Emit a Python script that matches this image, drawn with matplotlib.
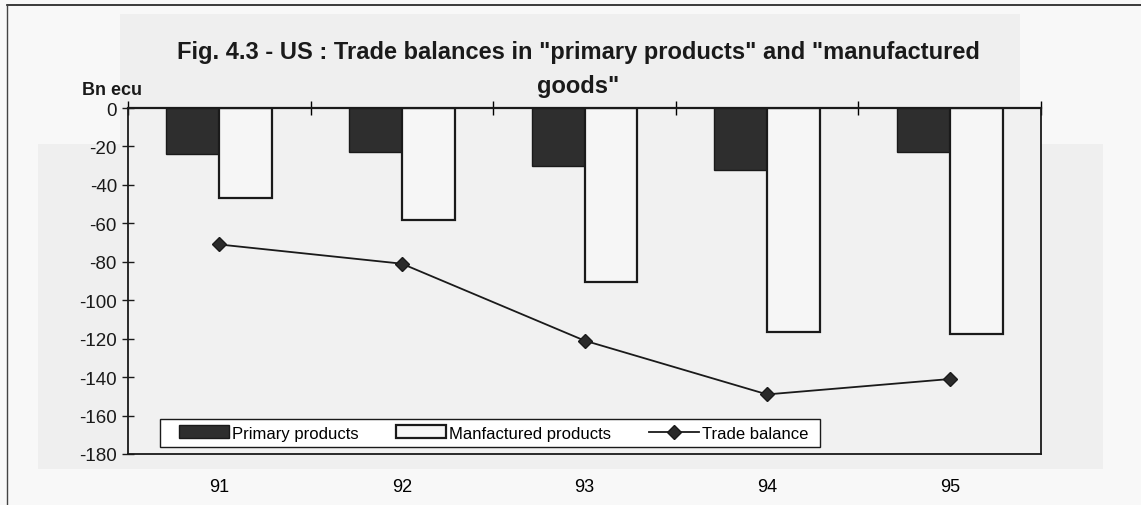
import matplotlib
matplotlib.use("Agg")
import matplotlib.pyplot as plt
import numpy as np
from matplotlib.patches import Rectangle

years = ["91", "92", "93", "94", "95"]
primary = [-24, -23, -30, -32, -23]
manufactured = [-47, -58.5, -90.5, -116.5, -117.5]
trade_balance = [-71, -81, -121, -149, -141]
yticks = [0, -20, -40, -60, -80, -100, -120, -140, -160, -180]

plt.rcParams['font.family'] = ['Liberation Sans', 'DejaVu Sans']

W, H = 1141, 506
fig = plt.figure(figsize=(W/100, H/100), dpi=100, facecolor='#f8f8f8')
ax_l, ax_r, ax_t, ax_b = 128, 1041, 109, 455
ax = fig.add_axes([ax_l/W, 1-ax_b/H, (ax_r-ax_l)/W, (ax_b-ax_t)/H])
ax.set_facecolor('#f1f1f1')

# light background patches resembling the scan
fig.patches.append(Rectangle((120/W, 1-145/H), (1020-120)/W, (145-15)/H,
                             transform=fig.transFigure, facecolor='#efefef', edgecolor='none', zorder=-5))
fig.patches.append(Rectangle((38/W, 1-470/H), (1103-38)/W, (470-145)/H,
                             transform=fig.transFigure, facecolor='#efefef', edgecolor='none', zorder=-5))

x = np.arange(len(years))
w = 0.29
ax.bar(x - w/2, primary, width=w, color='#2e2e2e', edgecolor='#1a1a1a', linewidth=1.0,
       label='Primary products', zorder=2)
ax.bar(x + w/2, manufactured, width=w, color='#f6f6f6', edgecolor='#1a1a1a', linewidth=1.6,
       label='Manfactured products', zorder=2)
ax.plot(x, trade_balance, color='#1a1a1a', linewidth=1.3, marker='D', markersize=7.5,
        markerfacecolor='#2a2a2a', markeredgecolor='#1a1a1a', label='Trade balance', zorder=3)

ax.set_xlim(-0.5, len(years) - 0.5)
ax.set_ylim(-180, 0)
ax.set_yticks(yticks)
ax.set_yticklabels([str(v) for v in yticks], fontsize=13.5)
ax.tick_params(axis='y', direction='inout', length=8, width=1, pad=4, colors='#1a1a1a')

# x labels at bottom, no ticks; boundary ticks drawn on the zero line
ax.set_xticks(x)
ax.set_xticklabels(years, fontsize=13)
ax.tick_params(axis='x', length=0, pad=17)
ax.set_xticks(np.arange(-0.5, len(years)), minor=True)
ax.tick_params(axis='x', which='minor', bottom=False, top=True, direction='inout', length=10, width=1)

for s in ax.spines.values():
    s.set_color('#1a1a1a')
    s.set_linewidth(1.3)
ax.spines['top'].set_linewidth(1.6)

# legend frame drawn separately (wide horizontal padding as in the original)
axw, axh = ax_r - ax_l, ax_b - ax_t
ax.add_patch(Rectangle(((160-ax_l)/axw, (ax_b-448)/axh), (820-160)/axw, (448-420)/axh,
                       transform=ax.transAxes, facecolor='#ffffff', edgecolor='#1a1a1a',
                       linewidth=1.0, zorder=4))
handles, labels = ax.get_legend_handles_labels()
order = [labels.index('Primary products'), labels.index('Manfactured products'),
         labels.index('Trade balance')]
leg = ax.legend([handles[i] for i in order], [labels[i] for i in order],
                loc='center left', bbox_to_anchor=((179-ax_l)/axw, (ax_b-434)/axh), ncol=3,
                fontsize=12, frameon=False, handlelength=3.0, handleheight=0.8,
                columnspacing=2.3, borderpad=0, handletextpad=0.15, borderaxespad=0)
leg.set_zorder(5)

fig.text(0.507, 1-52/H, 'Fig. 4.3 - US : Trade balances in "primary products" and "manufactured',
         ha='center', va='center', fontsize=17, fontweight='bold', color='#1a1a1a')
fig.text(0.507, 1-86/H, 'goods"', ha='center', va='center', fontsize=17,
         fontweight='bold', color='#1a1a1a')
fig.text(82/W, 1-91/H, 'Bn ecu', ha='left', va='center', fontsize=13,
         fontweight='bold', color='#1a1a1a')

# outer frame lines (top and left)
fig.add_artist(plt.Line2D([7/W, 1], [1-6/H, 1-6/H], transform=fig.transFigure,
                          color='#1a1a1a', linewidth=1.2))
fig.add_artist(plt.Line2D([7/W, 7/W], [0, 1-6/H], transform=fig.transFigure,
                          color='#444444', linewidth=1.0))

fig.savefig('out.png', dpi=100, facecolor=fig.get_facecolor())
